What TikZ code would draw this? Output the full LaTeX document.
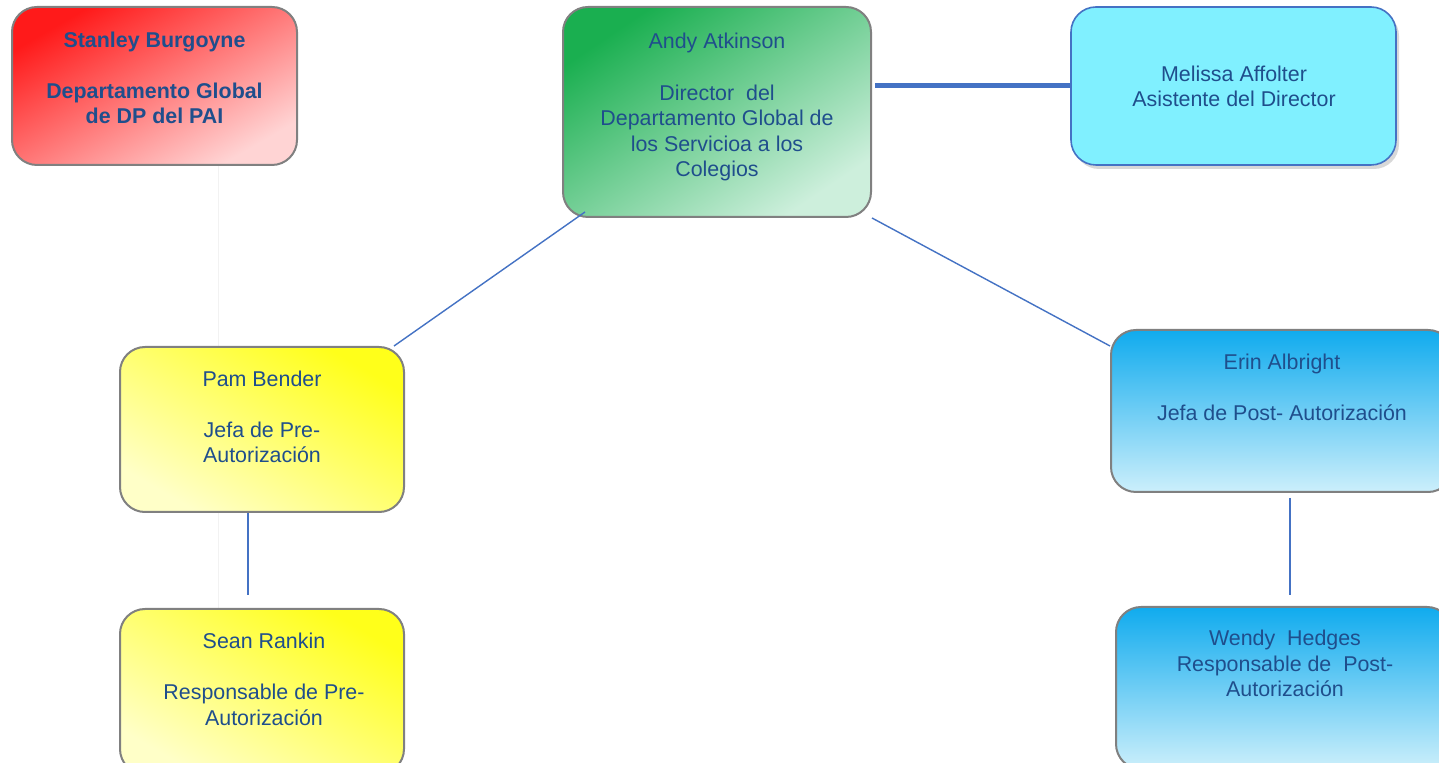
\documentclass[tikz,border=0pt]{standalone}
\usepackage{fontspec}
\setmainfont{Liberation Sans}
\usetikzlibrary{calc,shadows}

\definecolor{txtblue}{HTML}{1F4E8C}
\definecolor{linkblue}{HTML}{4472C4}
\definecolor{redA}{HTML}{FF1A1A}
\definecolor{redM}{HTML}{FFA0A0}
\definecolor{redB}{HTML}{FFD4D4}
\definecolor{greenA}{HTML}{1AAF50}
\definecolor{greenM}{HTML}{96D7AD}
\definecolor{greenB}{HTML}{CDEFDC}
\definecolor{cyanbox}{HTML}{80F0FF}
\definecolor{yellowA}{HTML}{FFFF1A}
\definecolor{yellowM}{HTML}{FFFF90}
\definecolor{yellowB}{HTML}{FFFFC8}
\definecolor{blueA}{HTML}{10ABEE}
\definecolor{blueB}{HTML}{CCEFFB}

\tikzset{
  orgbox/.style={draw=gray, line width=1pt, rounded corners=12.5pt, inner sep=0pt},
  txt/.style={text=txtblue, align=center, inner sep=0pt, anchor=base,
    font=\fontsize{10.7}{12.8}\selectfont},
  link/.style={linkblue, line width=0.7pt}
}

\begin{document}
\begin{tikzpicture}[x=0.5pt,y=-0.5pt]

  \useasboundingbox (0,0) rectangle (1439,763);
  \fill[white] (0,0) rectangle (1439,763);
  \clip (0,0) rectangle (1439,763);

% faint guide line
  \draw[black!5, line width=0.5pt] (218,165) -- (218,763);

% Boxes
  \node[orgbox, top color=redA, middle color=redM, bottom color=redB, shading angle=30,
    minimum width=142.5pt, minimum height=79pt] (stanley) at (154.5,86) {};
  \node[orgbox, top color=greenA, middle color=greenM, bottom color=greenB, shading angle=34,
    minimum width=154pt, minimum height=105pt] (andy) at (717,112) {};
  \node[orgbox, draw=linkblue, line width=0.8pt, fill=cyanbox,
    drop shadow={shadow xshift=1.5pt, shadow yshift=-2pt, opacity=0.3},
    minimum width=162.5pt, minimum height=79pt] (melissa) at (1233.5,86) {};
  \node[orgbox, top color=yellowA, middle color=yellowM, bottom color=yellowB, shading angle=-30,
    minimum width=142pt, minimum height=82.5pt] (pam) at (262,429.5) {};
  \node[orgbox, top color=yellowA, middle color=yellowM, bottom color=yellowB, shading angle=-30,
    minimum width=142pt, minimum height=82.5pt] (sean) at (262,691.5) {};
  \node[orgbox, top color=blueA, bottom color=blueB,
    minimum width=171pt, minimum height=81pt] (erin) at (1282,411) {};
  \node[orgbox, top color=blueA, bottom color=blueB,
    minimum width=168pt, minimum height=81pt] (wendy) at (1284,688) {};

% Texts (anchored on the baseline of the last line)
  \node[txt, font=\fontsize{10.7}{12.8}\selectfont\bfseries] (stanleytxt) at (154.5,124)
    {Stanley Burgoyne\\[12.8pt]Departamento Global\\de DP del PAI};
  \node[txt] (andytxt) at (717,177)
    {Andy Atkinson\\[12.8pt]Director~ del\\Departamento Global de\\los Servicioa a los\\Colegios};
  \node[txt] (melissatxt) at (1234,107) {Melissa Affolter\\Asistente del Director};
  \node[txt] (pamtxt) at (262,463) {Pam Bender\\[12.8pt]Jefa de Pre-\\Autorización};
  \node[txt] (seantxt) at (264,725) {Sean Rankin\\[12.8pt]Responsable de Pre-\\Autorización};
  \node[txt] (erintxt) at (1282,421) {Erin Albright\\[12.8pt]Jefa de Post- Autorización};
  \node[txt] (wendytxt) at (1285,697) {Wendy~ Hedges\\Responsable de~ Post-\\Autorización};

% Connectors
  \draw[link, line width=2.5pt] ($(andy.east |- melissa.west)+(3,0)$) -- (melissa.west);
  \draw[link] ($(andy.south west)+(23,-6)$) -- ($(pam.north east)+(-11,0)$);
  \draw[link] (andy.south east) -- ($(erin.north west)+(0,17)$);
  \draw[link] ($(pam.south)+(-14,0)$) -- ($(sean.north)+(-14,-13)$);
  \draw[link] ($(erin.south)+(8,5)$) -- ($(wendy.north)+(6,-11)$);

\end{tikzpicture}
\end{document}
